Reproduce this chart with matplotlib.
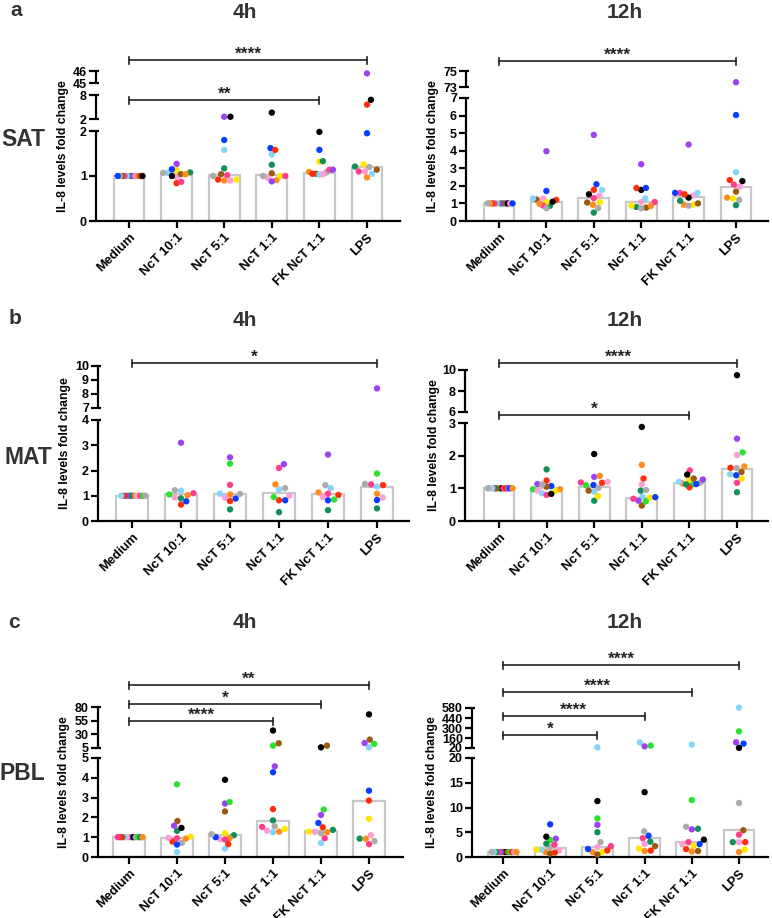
"""
IL-8 fold change per stimulus, SAT / MAT / PBL at 4h and 12h (broken y axes)
"""

import numpy as np
import matplotlib
matplotlib.use("Agg")
import matplotlib.pyplot as plt
from matplotlib.ticker import FixedLocator, FixedFormatter, NullLocator

W, H, dpi = 772, 918, 100

groups = ["Medium", "NcT 10:1", "NcT 5:1", "NcT 1:1", "FK NcT 1:1", "LPS"]

# one letter per donor colour
palette = {"Y": "#ffe600", "G": "#13905a", "L": "#2ee02e", "P": "#9c42f0",
           "M": "#ff3f8e", "I": "#ff9ed6", "N": "#9a5a14", "R": "#ff2d0a",
           "K": "#000000", "O": "#ff8c1c", "C": "#86d4fb", "B": "#0a3cff",
           "A": "#ababab"}

##########################
# DATA
##########################

# SAT 4h
sat4_cols = ["YGCPMINOARBK", "CYGINORMPBKA", "OMRANIYGCBPK",
             "ONYIAPMGCBRK", "NAMPYGCOIRBK", "CGNYIMAOBRKP"]
sat4_vals = [[1.0, 1.0, 1.0, 1.0, 1.0, 1.0, 1.0, 1.0, 1.0, 1.0, 1.0, 1.0],
             [1.07, 1.13, 1.08, 0.98, 1.04, 1.04, 0.84, 0.87, 1.27, 1.15, 1.0, 1.07],
             [0.9, 1.02, 0.92, 1.0, 1.04, 0.9, 0.92, 1.17, 1.58, 1.8, 2.56, 2.56],
             [0.91, 1.06, 1.0, 0.96, 1.0, 0.88, 1.0, 1.25, 1.48, 1.62, 1.58, 3.6],
             [1.05, 1.08, 1.14, 1.14, 1.32, 1.33, 1.03, 1.09, 1.04, 1.05, 1.58, 1.98],
             [1.05, 1.21, 1.14, 1.26, 1.1, 1.1, 1.2, 0.97, 1.95, 5.6, 6.8, 45.8]]
sat4_bars = [1.0, 1.07, 1.02, 1.03, 1.07, 1.2]
sat4_sig = [(0, 5, "****"), (0, 4, "**")]

# SAT 12h
sat12_cols = ["YGCPMNRKOIAB", "INGCYMORAKBP", "BIOKYGRMACNP",
              "NIGKYBRMAOCP", "IYMKOGCBARNP", "GIORYKCMNABP"]
sat12_vals = [[1.0, 1.0, 1.0, 1.0, 1.0, 1.0, 1.0, 1.0, 1.0, 1.0, 1.0, 1.0],
              [1.27, 1.22, 0.86, 1.28, 1.08, 0.88, 0.98, 1.2, 0.72, 1.1, 1.71, 3.97],
              [2.09, 1.45, 0.92, 1.52, 1.07, 0.48, 1.77, 1.3, 0.73, 1.77, 1.05, 4.9],
              [0.76, 1.08, 0.8, 1.77, 0.88, 1.88, 1.88, 1.08, 0.72, 0.85, 1.28, 3.23],
              [1.45, 0.93, 1.6, 1.33, 0.93, 1.15, 1.6, 1.6, 0.87, 1.52, 1.0, 4.35],
              [0.9, 1.95, 1.33, 2.33, 1.28, 2.27, 2.77, 2.07, 1.67, 1.2, 6.03, 73.6]]
sat12_bars = [1.0, 1.1, 1.33, 1.06, 1.37, 1.95]
sat12_sig = [(0, 5, "****")]

# MAT 4h
mat4_cols = ["BOGIPMRLCA", "MRCIAGOBLP", "OIPMCRGLBA",
             "IARMGCBPOL", "ROLGPICMAB", "RCIGLMBAOP"]
mat4_vals = [[1.0, 1.0, 1.0, 1.0, 1.0, 1.0, 1.0, 1.0, 1.0, 1.0],
             [1.1, 0.65, 1.2, 0.93, 1.22, 0.9, 1.02, 0.78, 1.05, 3.1],
             [1.05, 0.93, 2.52, 1.43, 1.08, 0.79, 0.46, 2.27, 0.89, 1.07],
             [1.0, 1.3, 0.82, 2.1, 0.35, 1.25, 0.82, 2.25, 1.45, 0.95],
             [1.03, 1.13, 0.85, 0.43, 2.63, 0.95, 1.3, 1.08, 1.42, 0.82],
             [1.42, 1.37, 0.93, 0.5, 1.88, 1.45, 0.83, 1.47, 1.08, 8.4]]
mat4_bars = [1.0, 1.05, 1.05, 1.1, 1.05, 1.35]
mat4_sig = [(0, 5, "*")]

# MAT 12h
mat12_cols = ["YKNMGRIPCBAO", "BCOYPRLGNIMAK", "PBCLGAYKMRNIO",
              "MCNIYGALROPBK", "LYAMNOKPRBGC", "NYAGLPIRCMOBK"]
mat12_vals = [[1.0, 1.0, 1.0, 1.0, 1.0, 1.0, 1.0, 1.0, 1.0, 1.0, 1.0, 1.0],
              [1.07, 0.85, 0.97, 0.92, 1.13, 1.24, 0.97, 1.58, 1.05, 0.93, 0.8, 1.12, 0.83],
              [1.35, 1.1, 0.9, 1.1, 0.62, 1.02, 0.76, 2.05, 1.18, 1.17, 0.93, 1.2, 1.38],
              [0.68, 0.75, 0.47, 1.12, 0.72, 0.93, 0.95, 0.6, 1.3, 1.72, 0.62, 0.73, 2.88],
              [1.12, 1.27, 1.17, 1.55, 1.3, 1.15, 1.42, 1.27, 1.03, 1.13, 1.12, 1.2],
              [1.5, 1.3, 1.62, 0.88, 2.1, 2.52, 2.02, 1.63, 1.43, 1.17, 1.67, 1.4, 9.5]]
mat12_bars = [1.0, 1.0, 1.05, 0.7, 1.15, 1.6]
mat12_sig = [(0, 5, "****"), (0, 4, "*")]

# PBL 4h
pbl4_cols = ["YPIKCANLRGMO", "YOGKNAPRCIMBL", "GYIOCNPLKBRMA",
             "OGAIMRCYBPLNK", "YRPBAGCMLOINK", "MICNGLYRBAOPK"]
pbl4_vals = [[1.0, 1.0, 1.0, 1.0, 1.0, 1.0, 1.0, 1.0, 1.0, 1.0, 1.0, 1.0],
             [1.03, 0.93, 1.32, 1.47, 1.82, 0.72, 1.58, 0.78, 0.25, 0.97, 0.95, 0.63, 3.67],
             [1.1, 1.2, 0.9, 0.95, 0.42, 2.3, 2.7, 2.78, 3.9, 1.0, 0.65, 0.88, 1.15],
             [1.28, 1.85, 1.55, 1.33, 1.52, 2.42, 1.25, 1.42, 4.28, 4.58, 9.3, 13.6, 37.0],
             [1.28, 1.5, 2.12, 1.72, 1.2, 1.37, 0.7, 0.95, 2.4, 1.25, 1.27, 9.3, 6.2],
             [0.65, 1.1, 6.2, 20.4, 0.93, 12.4, 1.93, 2.85, 3.35, 0.8, 0.92, 14.2, 66.5]]
pbl4_bars = [1.0, 0.97, 1.1, 1.8, 1.3, 2.82]
pbl4_sig = [(0, 5, "**"), (0, 4, "*"), (0, 3, "****")]

# PBL 12h
pbl12_cols = ["YKPNMLGRCIAO", "OAPICLMBKNGYR", "YIOKLPGBMNRAC",
              "BIOANKRGMYCLP", "KNABRPMLGYIOC", "IOMRYAGNPCLKB"]
pbl12_vals = [[1.0, 1.0, 1.0, 1.0, 1.0, 1.0, 1.0, 1.0, 1.0, 1.0, 1.0, 1.0],
              [1.0, 2.0, 3.7, 1.3, 1.5, 3.4, 2.5, 6.6, 4.1, 0.7, 2.7, 1.5, 0.9],
              [1.0, 2.0, 1.0, 11.3, 7.8, 6.5, 5.0, 1.6, 2.2, 0.5, 1.3, 3.0, 29.0],
              [4.3, 2.6, 1.2, 5.2, 2.2, 13.1, 1.3, 3.1, 3.8, 1.7, 99.0, 53.0, 43.0],
              [3.5, 1.2, 6.1, 2.6, 1.6, 5.6, 3.0, 11.5, 5.7, 2.3, 2.6, 1.1, 67.0],
              [3.0, 1.0, 4.5, 3.0, 1.5, 10.9, 3.0, 5.4, 99.0, 585.0, 253.0, 22.0, 81.0]]
pbl12_bars = [1.0, 1.8, 2.1, 3.8, 3.0, 5.4]
pbl12_sig = [(0, 5, "****"), (0, 4, "****"), (0, 3, "****"), (0, 2, "*")]

##########################
# LAYOUT (pixels)
##########################

# left spine x, right end of x axis, y of zero line, x of first / last category
# segments: (low, high, height px); gap px between segments; bracket line y's
panels = [
    dict(left=96, right=400, bottom=221, c0=129, cN=367, gap=12,
         segs=[(0, 2, 90), (2, 8, 24), (45, 46, 12)],
         ticks=[[0, 1, 2], [2, 8], [45, 46]], sig_y=[60, 100], ylab_x=63,
         cols=sat4_cols, vals=sat4_vals, bars=sat4_bars, sig=sat4_sig),
    dict(left=466, right=768, bottom=221, c0=499, cN=736, gap=11,
         segs=[(0, 7, 123), (73, 75, 16)],
         ticks=[[0, 1, 2, 3, 4, 5, 6, 7], [73, 75]], sig_y=[61], ylab_x=433,
         cols=sat12_cols, vals=sat12_vals, bars=sat12_bars, sig=sat12_sig),
    dict(left=98, right=409, bottom=521, c0=132, cN=377, gap=12,
         segs=[(0, 4, 101), (7, 10, 42)],
         ticks=[[0, 1, 2, 3, 4], [7, 8, 9, 10]], sig_y=[363], ylab_x=65,
         cols=mat4_cols, vals=mat4_vals, bars=mat4_bars, sig=mat4_sig),
    dict(left=465, right=768, bottom=521, c0=499, cN=737, gap=11,
         segs=[(0, 3, 98), (6, 10, 42)],
         ticks=[[0, 1, 2, 3], [6, 8, 10]], sig_y=[363, 415], ylab_x=434,
         cols=mat12_cols, vals=mat12_vals, bars=mat12_bars, sig=mat12_sig),
    dict(left=98, right=403, bottom=857, c0=129, cN=369, gap=10,
         segs=[(0, 5, 99), (5, 80, 41)],
         ticks=[[0, 1, 2, 3, 4, 5], [5, 30, 55, 80]], sig_y=[685, 704, 721], ylab_x=64,
         cols=pbl4_cols, vals=pbl4_vals, bars=pbl4_bars, sig=pbl4_sig),
    dict(left=472, right=768, bottom=857, c0=503, cN=739, gap=10,
         segs=[(0, 20, 99), (20, 580, 40)],
         ticks=[[0, 5, 10, 15, 20], [20, 160, 300, 440, 580]],
         sig_y=[665, 692, 716, 735], ylab_x=432,
         cols=pbl12_cols, vals=pbl12_vals, bars=pbl12_bars, sig=pbl12_sig),
]

plt.rcParams["font.family"] = ["Liberation Sans", "DejaVu Sans"]
plt.rcParams["font.weight"] = "bold"

fig = plt.figure(figsize=(W / dpi, H / dpi), dpi=dpi)


def piecewise(segs, gap):
    xp, fp, lows = [], [], []
    pos = 0.0
    for k, (lo, hi, h) in enumerate(segs):
        if k:
            pos += gap
            if lo <= xp[-1]:
                lo = xp[-1] + 1e-6 * (hi - lo)
        lows.append(lo)
        xp += [lo, hi]
        fp += [pos, pos + h]
        pos += h
    s0 = (fp[1] - fp[0]) / (xp[1] - xp[0])
    s1 = (fp[-1] - fp[-2]) / (xp[-1] - xp[-2])
    xp = np.array([xp[0] - 1e5] + xp + [xp[-1] + 1e5])
    fp = np.array([fp[0] - 1e5 * s0] + fp + [fp[-1] + 1e5 * s1])
    return xp, fp, lows, pos


def swarm(ypx, d=6.2, wmax=13.5):
    n = len(ypx)
    xs = np.zeros(n)
    done = []
    for i in np.argsort(ypx, kind="stable"):
        cands = [0.0]
        for j in done:
            dy = ypx[i] - ypx[j]
            if abs(dy) < d:
                dx = np.sqrt(d * d - dy * dy)
                cands += [xs[j] + dx, xs[j] - dx]
        cands.sort(key=abs)
        for c in cands:
            if all((c - xs[j]) ** 2 + (ypx[i] - ypx[j]) ** 2 >= d * d - 1e-6 for j in done):
                xs[i] = c
                break
        done.append(i)
    m = np.abs(xs).max()
    if m > wmax:
        xs *= wmax / m
    return xs


for p in panels:
    xp, fp, lows, total = piecewise(p["segs"], p["gap"])
    fwd = lambda v, xp=xp, fp=fp: np.interp(v, xp, fp)
    inv = lambda v, xp=xp, fp=fp: np.interp(v, fp, xp)

    hpx = total
    wpx = p["right"] - p["left"]
    step = (p["cN"] - p["c0"]) / 5.0
    ax = fig.add_axes([p["left"] / W, 1 - p["bottom"] / H, wpx / W, hpx / H])
    ax.set_yscale("function", functions=(fwd, inv))
    ax.set_xlim((p["left"] - p["c0"]) / step, (p["right"] - p["c0"]) / step)
    ax.set_ylim(0, p["segs"][-1][1])

    # bars (median) and donor points
    x = np.arange(len(groups))
    ax.bar(x, p["bars"], width=0.65, facecolor="white", edgecolor="#c8c8c8",
           linewidth=1.6, zorder=1)
    for i, (cs, vs) in enumerate(zip(p["cols"], p["vals"])):
        vs = np.array(vs, dtype=float)
        dx = swarm(fwd(vs)) / step
        ax.scatter(i + dx, vs, s=21, c=[palette[c] for c in cs],
                   edgecolors="none", zorder=3, clip_on=False)

    # axes styling
    for side in ["top", "right", "left"]:
        ax.spines[side].set_visible(False)
    ax.spines["bottom"].set_linewidth(1.6)
    ax.set_xticks(x)
    ax.set_xticklabels(groups, rotation=45, ha="right", va="top",
                       rotation_mode="anchor", fontsize=9.4)
    ax.tick_params(axis="x", length=5, width=1.6, pad=2.5)

    yt, yl = [], []
    for k, tl in enumerate(p["ticks"]):
        for t in tl:
            yt.append(lows[k] if t == p["segs"][k][0] else t)
            yl.append(str(t))
    ax.yaxis.set_major_locator(FixedLocator(yt))
    ax.yaxis.set_major_formatter(FixedFormatter(yl))
    ax.yaxis.set_minor_locator(NullLocator())
    ax.tick_params(axis="y", length=5, width=1.6, pad=1.5, labelsize=9)

    # broken left spine
    ytr = ax.get_yaxis_transform()
    cap = 3.0 / wpx
    for k, (lo, hi, h) in enumerate(p["segs"]):
        ax.plot([0, 0], [lows[k], hi], transform=ytr, color="black", lw=1.6,
                clip_on=False, solid_capstyle="butt", zorder=4)
        for yy in ([lows[k], hi] if k else [hi]):
            ax.plot([0, cap], [yy, yy], transform=ytr, color="black", lw=1.6,
                    clip_on=False, solid_capstyle="butt", zorder=4)

    # significance brackets
    xtr = ax.get_xaxis_transform()
    for (i0, i1, lab), ypix in zip(p["sig"], p["sig_y"]):
        yf = (p["bottom"] - ypix) / hpx
        e = 3.5 / hpx
        ax.plot([i0, i1], [yf, yf], transform=xtr, color="#222222", lw=1.2, clip_on=False)
        for xx in (i0, i1):
            ax.plot([xx, xx], [yf - e, yf + e], transform=xtr, color="#222222",
                    lw=1.2, clip_on=False)
        ax.text((i0 + i1) / 2, yf + 1.5 / hpx, lab, transform=xtr, ha="center",
                va="baseline", fontsize=12.5, color="#222222")

    fig.text(p["ylab_x"] / W, 1 - (p["bottom"] - hpx / 2) / H, "IL-8 levels fold change",
             rotation=90, ha="center", va="center", fontsize=8.8)

# titles, panel letters and tissue labels
for xx, yy, s in [(245, 12, "4h"), (625, 12, "12h"), (245, 320, "4h"),
                  (625, 321, "12h"), (245, 623, "4h"), (625, 622, "12h")]:
    fig.text(xx / W, 1 - yy / H, s, ha="center", va="center", fontsize=15, color="#333333")
for xx, yy, s in [(16, 11, "a"), (15, 318, "b"), (14, 622, "c")]:
    fig.text(xx / W, 1 - yy / H, s, ha="center", va="center", fontsize=15, color="#333333")
for xx, yy, s in [(23, 140, "SAT"), (28, 458, "MAT"), (22, 773, "PBL")]:
    fig.text(xx / W, 1 - yy / H, s, ha="center", va="center", fontsize=16.5, color="#333333")

fig.savefig("out.png", dpi=dpi)
